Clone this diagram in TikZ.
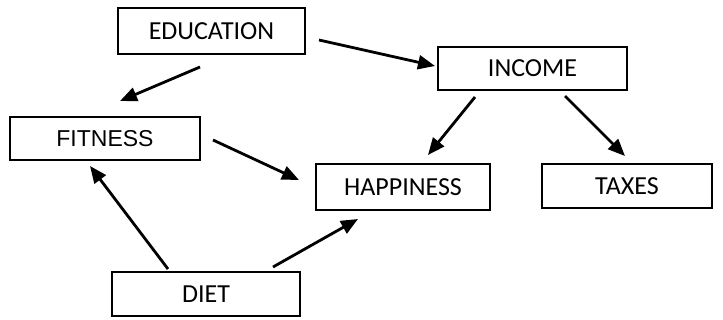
\documentclass[tikz,border=0pt]{standalone}
\usepackage{fontspec}
\setmainfont{Carlito}
\newfontfamily\arialfont{Liberation Sans}
\usetikzlibrary{arrows.meta}
\tikzset{
  box/.style={draw, line width=2pt, inner sep=0pt, font=\fontsize{26}{31}\selectfont},
  arr/.style={line width=2.8pt, -{Triangle[length=17pt,width=14pt]}}
}
\begin{document}
\begin{tikzpicture}[x=1pt,y=-1pt]
		\useasboundingbox (0,0) rectangle (723,320);
		% Boxes
		\node[box, minimum width=187pt, minimum height=46pt] (edu) at (211.5,31) {EDUCATION};
		\node[box, minimum width=189pt, minimum height=43pt] (inc) at (532.5,68.5) {INCOME};
		\node[box, minimum width=190pt, minimum height=43pt, font=\arialfont\fontsize{23}{28}\selectfont] (fit) at (105,138.5) {FITNESS};
		\node[box, minimum width=174pt, minimum height=46pt] (hap) at (403,187) {HAPPINESS};
		\node[box, minimum width=170pt, minimum height=44pt] (tax) at (627,186) {TAXES};
		\node[box, minimum width=188pt, minimum height=44pt] (diet) at (206,294) {DIET};

		% Arrows
		\draw[arr] ([shift={(13,9)}]edu.east) -- ([shift={(-2,-2.5)}]inc.west);
		\draw[arr] ([shift={(-11.5,12)}]edu.south) -- ([shift={(15,-15)}]fit.north);
		\draw[arr] ([shift={(-57.5,6)}]inc.south) -- ([shift={(25,-8)}]hap.north);
		\draw[arr] ([shift={(32.5,5)}]inc.south) -- ([shift={(-2,-7)}]tax.north);
		\draw[arr] ([shift={(12,1.5)}]fit.east) -- ([shift={(-16,-7)}]hap.west);
		\draw[arr] ([shift={(-38,-2)}]diet.north) -- ([shift={(-15,5)}]fit.south);
		\draw[arr] ([shift={(67,-4)}]diet.north) -- ([shift={(-45,8)}]hap.south);
	\end{tikzpicture}
\end{document}
